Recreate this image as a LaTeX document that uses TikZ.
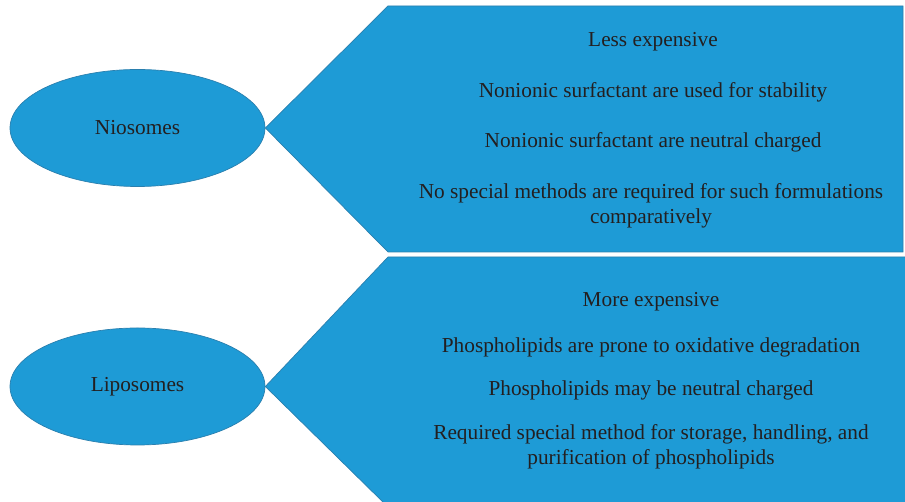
\documentclass[tikz,border=0pt]{standalone}
\usepackage{fontspec}
\setmainfont{Liberation Serif}
\usetikzlibrary{shapes.geometric}
\definecolor{fillblue}{HTML}{1E9BD6}
\definecolor{edgeblue}{HTML}{2A7FAE}
\definecolor{txt}{HTML}{231F20}
\begin{document}
\begin{tikzpicture}[x=1pt,y=1pt,
  oval/.style={ellipse,draw=edgeblue,fill=fillblue,line width=0.7pt,minimum width=255pt,minimum height=117pt,inner sep=0pt,text=txt,font=\fontsize{21.3}{25}\selectfont},
  panel/.style={draw=edgeblue,fill=fillblue,line width=0.7pt},
  item/.style={text=txt,align=center,inner sep=0pt,font=\fontsize{21.3}{25}\selectfont}]
\useasboundingbox (0,0) rectangle (905,502);
\clip (0,0) rectangle (905,502);
\node[oval] (nio) at (137.5,374) {Niosomes};
\node[oval] (lip) at (137.5,115.5) {Liposomes};
\coordinate (t1) at (388,496);
\coordinate (t2) at (903,496);
\coordinate (t3) at (903,250);
\coordinate (t4) at (388,250);
\draw[panel] (nio.east) -- (t1) -- (t2) -- (t3) -- (t4) -- cycle;
\coordinate (b1) at (388,245);
\coordinate (b2) at (910,245);
\coordinate (b3) at (910,-5);
\coordinate (b4) at (388,-5);
\draw[panel] (lip.east) -- (b1) -- (b2) -- (b3) -- (b4) -- cycle;
\node[item] (a1) at (653,460) {Less expensive};
\node[item] (a2) at (653,410) {Nonionic surfactant are used for stability};
\node[item] (a3) at (653,360) {Nonionic surfactant are neutral charged};
\node[item] (a4) at (651,296) {No special methods are required for such formulations\\comparatively};
\node[item] (c1) at (651,200) {More expensive};
\node[item] (c2) at (651,155) {Phospholipids are prone to oxidative degradation};
\node[item] (c3) at (651,112) {Phospholipids may be neutral charged};
\node[item] (c4) at (651,55) {Required special method for storage, handling, and\\purification of phospholipids};
\end{tikzpicture}
\end{document}
